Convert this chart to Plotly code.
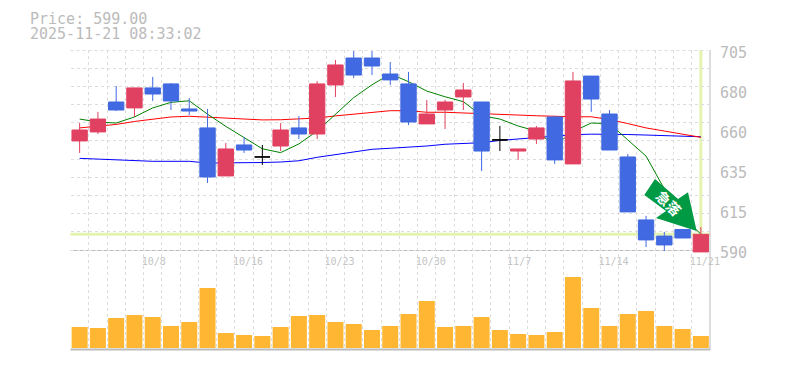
import plotly.graph_objects as go

W, H = 785, 370
days = ["10/2","10/3","10/6","10/7","10/8","10/9","10/10","10/14","10/15","10/16","10/17","10/20","10/21","10/22","10/23",
        "10/24","10/27","10/28","10/29","10/30","10/31","11/4","11/5","11/6","11/7","11/10","11/11","11/12","11/13","11/14",
        "11/17","11/18","11/19","11/20","11/21"]
opens = [652.7,657.9,675.1,671.7,683.2,685.5,671.1,660.2,632.6,650.4,643.5,649.8,660.2,656.7,684.9,700.4,700.4,691.2,685.5,662.5,
         670.5,678.0,675.1,653.3,646.9,653.8,666.5,639.5,690.0,668.2,643.5,607.3,598.0,601.8,588.9]
highs = [663.0,669.4,684.3,683.2,689.5,686.0,677.4,671.1,651.5,655.0,650.4,663.0,667.1,687.2,699.3,704.4,704.4,698.1,692.4,676.3,
         676.3,686.0,675.1,661.3,648.1,661.3,667.1,692.4,690.0,670.5,645.2,609.6,600.4,601.8,603.2]
lows = [645.8,656.7,669.9,666.5,675.7,670.5,667.6,628.5,632.6,645.8,638.9,646.9,653.8,653.8,678.0,688.9,690.6,684.9,661.9,662.5,
        659.6,670.5,635.4,646.9,641.8,651.0,639.5,639.5,669.4,647.5,611.9,591.7,589.4,596.9,588.9]
closes = [659.0,665.3,670.5,683.2,679.7,675.7,669.9,632.0,648.1,647.5,643.5,659.0,656.7,685.5,696.4,690.6,695.8,687.8,663.6,668.2,
          675.1,682.0,646.9,653.3,648.1,660.2,641.8,687.2,676.8,647.5,611.9,595.8,592.9,596.9,599.0]
ma_short = [665.3,663.6,663.0,666.5,671.7,674.9,675.8,668.1,661.1,654.6,648.2,646.0,651.0,658.4,668.2,677.6,685.0,691.2,686.8,681.4,
            678.1,675.3,667.2,665.3,661.3,658.4,650.0,658.1,663.0,662.7,653.3,644.0,625.1,609.0,599.2]
ma_mid = [660.2,661.3,662.2,663.9,665.3,666.5,666.9,666.3,665.7,665.2,664.8,664.9,665.3,665.9,667.1,668.2,669.1,670.1,670.1,669.2,
          669.2,668.9,668.2,667.9,667.6,667.2,666.8,666.6,666.6,665.0,662.7,660.2,658.4,656.4,654.8]
ma_long = [642.7,642.2,641.8,641.2,641.0,641.0,641.0,640.0,640.0,640.3,640.3,640.6,641.3,643.3,644.9,646.6,647.9,648.5,649.1,649.8,
           650.8,651.2,651.7,653.0,653.8,654.4,655.6,656.3,656.6,656.7,656.4,656.1,655.7,655.4,655.1]
volumes = [21,20,30,33,31,22,26,60,15,13,12,21,32,33,26,24,18,22,34,47,21,22,31,18,14,13,16,71,40,22,34,37,22,19,12]
date_idx = [4, 9, 14, 19, 24, 29, 34]
price_ticks = [705, 682, 659, 636, 613, 590]
price_labels = ["705", "680", "660", "635", "615", "590"]
last_price = 599.0
header = ["Price: 599.00", "2025-11-21 08:33:02"]
badge = "急落"

RED, BLUE, GREY = "#E14161", "#4169E1", "#BBBBBB"
GRID = "#DDDDDD"
MONO = "DejaVu Sans Mono"
xs = list(range(len(days)))
up = [i for i in xs if closes[i] > opens[i]]
down = [i for i in xs if closes[i] < opens[i]]
doji = [i for i in xs if closes[i] == opens[i]]

fx = lambda p: p / W
fy = lambda p: 1 - p / H

def pick(a, idx):
    return [a[i] for i in idx]

fig = go.Figure()
for vals, col in ((ma_long, "#0000FF"), (ma_mid, "#FF0000"), (ma_short, "#008000")):
    fig.add_trace(go.Scatter(x=xs, y=vals, mode="lines", line=dict(color=col, width=1),
                             xaxis="x", yaxis="y", hoverinfo="skip", showlegend=False))
for idx, col in ((up, RED), (down, BLUE), (doji, "#000000")):
    lo = [min(opens[i], closes[i]) for i in idx]
    hi = [max(opens[i], closes[i]) for i in idx]
    fig.add_trace(go.Box(x=idx, q1=lo, median=lo, q3=hi, lowerfence=pick(lows, idx), upperfence=pick(highs, idx),
                         width=0.84, whiskerwidth=0, fillcolor=col, line=dict(color=col, width=1),
                         boxpoints=False, xaxis="x", yaxis="y3", hoverinfo="skip", showlegend=False))
fig.add_trace(go.Bar(x=xs, y=volumes, marker=dict(color="#FFB733", line=dict(width=0)),
                     xaxis="x2", yaxis="y2", hoverinfo="skip", showlegend=False))

px_per = 0.575
yr = [590 - 4 * px_per, 705]
DASH = "3px,3px"
xgrid = dict(showgrid=True, griddash=DASH, gridcolor=GRID, gridwidth=1, dtick=1, tick0=-0.5)
domx = [fx(70.5), fx(710)]
date_text = [d + "\u00a0" if len(d) == 4 else d for d in pick(days, date_idx)]
fig.update_layout(
    width=W, height=H, autosize=False, margin=dict(l=0, r=0, t=0, b=0),
    paper_bgcolor="white", plot_bgcolor="white", bargap=0.125, boxmode="overlay",
    xaxis=dict(domain=domx, range=[-0.5, 34.5], anchor="y", side="bottom", tickmode="array", automargin=False,
               tickvals=date_idx, ticktext=date_text, showgrid=False, zeroline=False,
               ticks="", ticklen=0, ticklabelshift=4, showline=False,
               tickfont=dict(family=MONO, size=10, color="#C4C4C4"), minor=xgrid),
    xaxis2=dict(domain=domx, range=[-0.5, 34.5], anchor="y2", showticklabels=False, zeroline=False,
                automargin=False, ticks="", **xgrid),
    yaxis=dict(domain=[fy(254), fy(50)], range=yr, anchor="x", side="right", tickmode="array", automargin=False,
               tickvals=price_ticks, ticktext=price_labels, showgrid=False, zeroline=False, ticks="",
               ticklabelshift=3, ticklabelstandoff=9, showline=False,
               tickfont=dict(family=MONO, size=15, color=GREY),
               minor=dict(showgrid=True, griddash=DASH, gridcolor=GRID, gridwidth=1, dtick=115 / 11, tick0=590)),
    yaxis3=dict(overlaying="y", range=yr, anchor="x", visible=False, side="right", automargin=False),
    yaxis2=dict(domain=[fy(350), fy(254)], range=[-2, 94], anchor="x2", showgrid=False, zeroline=False,
                automargin=False, showticklabels=False, ticks=""),
    shapes=[
        dict(type="line", xref="paper", yref="y", x0=domx[0], x1=domx[1], y0=last_price, y1=last_price,
             line=dict(color="#E4F4B0", width=3), layer="below"),
        dict(type="line", xref="x", yref="paper", x0=34, x1=34, y0=fy(234), y1=fy(50),
             line=dict(color="#E4F4B0", width=3), layer="below"),
        dict(type="line", xref="paper", yref="paper", x0=domx[0], x1=domx[1], y0=fy(250.5), y1=fy(250.5),
             line=dict(color=GREY, width=1), layer="below"),
        dict(type="line", xref="paper", yref="paper", x0=domx[0], x1=domx[1], y0=fy(349.5), y1=fy(349.5),
             line=dict(color=GREY, width=2), layer="below"),
        dict(type="line", xref="paper", yref="paper", x0=fx(710), x1=fx(710), y0=fy(50), y1=fy(350),
             line=dict(color=GREY, width=1), layer="below"),
        dict(type="line", xref="paper", yref="paper", x0=domx[0], x1=fx(707.5), y0=fy(50.5), y1=fy(50.5),
             line=dict(color=GRID, width=1, dash=DASH), layer="below"),
        dict(type="path", xref="paper", yref="paper", fillcolor="#009944", line=dict(width=0), layer="above",
             path="M {} {} L {} {} L {} {} L {} {} L {} {} L {} {} L {} {} Z".format(
                 fx(655), fy(179), fx(678), fy(199), fx(688), fy(192.3), fx(696.7), fy(231),
                 fx(656), fy(218), fx(666), fy(211), fx(644.3), fy(195))),
    ],
    annotations=[
        dict(xref="paper", yref="paper", x=fx(28), y=fy(19), text=header[0], showarrow=False, xanchor="left",
             yanchor="middle", font=dict(family=MONO, size=15, color=GREY)),
        dict(xref="paper", yref="paper", x=fx(28), y=fy(34), text=header[1], showarrow=False, xanchor="left",
             yanchor="middle", font=dict(family=MONO, size=15, color=GREY)),
        dict(xref="paper", yref="paper", x=fx(669), y=fy(203), text="<b>" + badge + "</b>", showarrow=False, textangle=45,
             xanchor="center", yanchor="middle",
             font=dict(family="Noto Sans CJK JP", size=14, color="white")),
    ],
)
fig.write_html("out.html", config=dict(displayModeBar=False),
               post_script="document.body.style.margin='0';document.body.style.overflow='hidden';")
